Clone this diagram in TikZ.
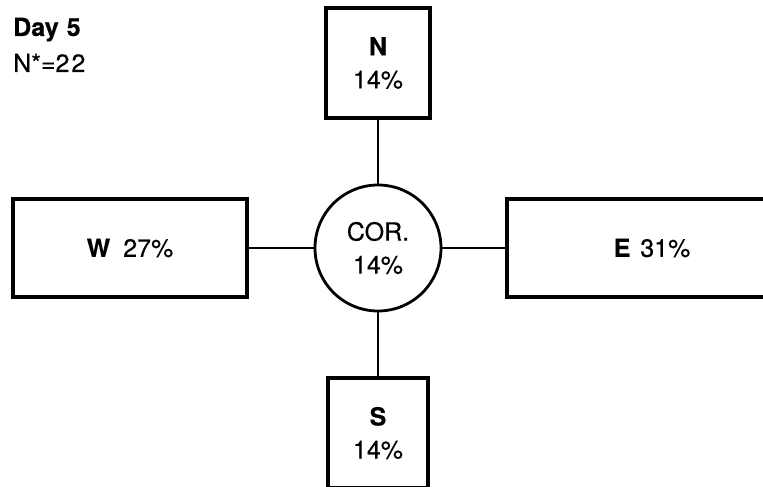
\documentclass[tikz,border=0pt]{standalone}
\usepackage{fontspec}
\setmainfont{TeX Gyre Heros}[FakeBold=0.4]
\begin{document}
\begin{tikzpicture}[x=1pt,y=-1pt,
  lbl/.style={font=\fontsize{25}{33}\selectfont, align=center, inner sep=0pt},
  boxnode/.style={draw, line width=3.2pt, rectangle, lbl},
  hub/.style={draw, line width=2.8pt, circle, lbl, minimum size=126pt},
  link/.style={line width=2.3pt}]
\useasboundingbox (0,0) rectangle (763,487);
\clip (0,0) rectangle (763,487);
\node[lbl, anchor=base west] (day) at (13,36) {\textbf{Day}\hspace{8pt}\textbf{5}};
\node[lbl, anchor=base west] (nstar) at (13,72) {N*=2\hspace{2pt}2};
\node[hub] (cor) at (378,248) {COR.\\14\%};
\node[boxnode, minimum width=104pt, minimum height=110pt] (n) at (378,63) {\textbf{N}\\14\%};
\node[boxnode, minimum width=100pt, minimum height=110pt] (s) at (378,433) {\textbf{S}\\14\%};
\node[boxnode, minimum width=234pt, minimum height=98pt] (w) at (130,248) {\textbf{W}\hspace{13pt}27\%};
\node[boxnode, minimum width=290pt, minimum height=98pt] (e) at (652,248) {\textbf{E}\hspace{10pt}31\%};
\draw[link] (n) -- (cor);
\draw[link] (s) -- (cor);
\draw[link] (w) -- (cor);
\draw[link] (e) -- (cor);
\end{tikzpicture}
\end{document}
